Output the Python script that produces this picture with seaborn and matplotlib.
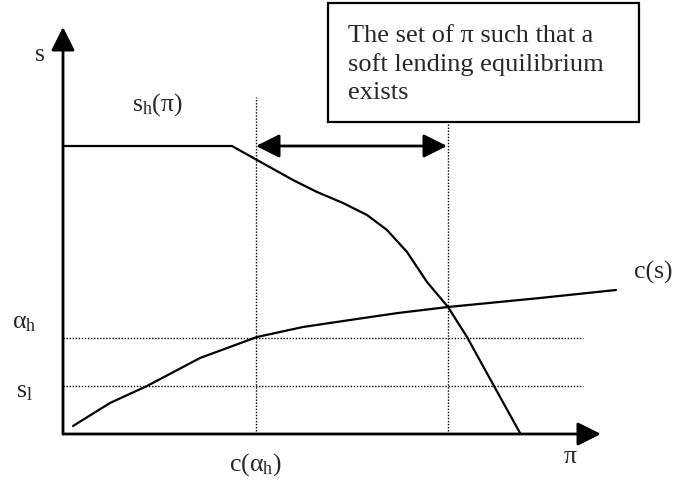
import numpy as np
import pandas as pd
import matplotlib
matplotlib.use("Agg")
import matplotlib.pyplot as plt
import seaborn as sns
from matplotlib.patches import Rectangle

# schematic values (origin at the axes corner)
cs_pi = [10, 47, 84, 137, 194, 240, 287, 335, 385, 477, 553]
cs_s = [8, 31, 48, 76, 97, 107, 114, 121, 127, 136, 144]

sh_pi = [0, 169, 194, 230, 254, 280, 304, 324, 344, 364, 385, 404, 431, 457]
sh_s = [288, 288, 274, 254, 242, 231, 219, 204, 182, 152, 127, 97, 48, 1]

alpha_h = 96
s_l = 48
c_alpha_h = 193
pi_top = 385
hline_end = 520

sns.set_theme(style="white")
plt.rcParams["font.family"] = ["Liberation Serif", "DejaVu Serif"]
plt.rcParams["mathtext.fontset"] = "custom"
plt.rcParams["mathtext.rm"] = "Liberation Serif"
plt.rcParams["mathtext.it"] = "Liberation Serif"

fig = plt.figure(figsize=(6.73, 4.83), dpi=100)
ax = fig.add_axes([0, 0, 1, 1])
ax.set_xlim(-63, 610)
ax.set_ylim(-49, 434)
ax.axis("off")

df_c = pd.DataFrame({"pi": cs_pi, "s": cs_s})
df_h = pd.DataFrame({"pi": sh_pi, "s": sh_s})
sns.lineplot(data=df_c, x="pi", y="s", sort=False, color="black", lw=1.6, ax=ax)
sns.lineplot(data=df_h, x="pi", y="s", sort=False, color="black", lw=1.6, ax=ax)

# dotted guide lines
dot = dict(color="black", lw=1, linestyle=(0, (1, 1.2)))
ax.plot([0, hline_end], [alpha_h, alpha_h], **dot)
ax.plot([0, hline_end], [s_l, s_l], **dot)
ax.plot([c_alpha_h, c_alpha_h], [0, 337], **dot)
ax.plot([pi_top, pi_top], [0, 311], **dot)

# axes with arrow heads
head = dict(arrowstyle="-|>,head_length=1.0,head_width=0.5", color="black",
            lw=2, mutation_scale=14.4, shrinkA=0, shrinkB=0)
ax.annotate("", xy=(0, 407), xytext=(0, 0), arrowprops=head)
ax.annotate("", xy=(538, 0), xytext=(0, 0), arrowprops=head)

# double arrow: set of pi
dbl = dict(arrowstyle="<|-|>,head_length=1.0,head_width=0.5", color="black",
           lw=2, mutation_scale=14.4, shrinkA=0, shrinkB=0)
ax.annotate("", xy=(384, 288), xytext=(193, 288), arrowprops=dbl)

# text box
ax.add_patch(Rectangle((265, 312), 311, 119, fill=False, ec="black", lw=1.6))
ax.text(285, 409, "The set of \u03c0 such that a\nsoft lending equilibrium\nexists",
        fontsize=19, va="top", ha="left", linespacing=1.35)

fs = 18.5
ax.text(-23, 379, "s", fontsize=fs, ha="center", va="center")
ax.text(94, 329, r"$s_h(\pi)$", fontsize=fs, ha="center", va="center")
ax.text(590, 162, "c(s)", fontsize=fs, ha="center", va="center")
ax.text(-39, 111, r"$\alpha_h$", fontsize=fs, ha="center", va="center")
ax.text(-39, 42, r"$s_l$", fontsize=fs, ha="center", va="center")
ax.text(192, -31, r"$c(\alpha_h)$", fontsize=fs, ha="center", va="center")
ax.text(507, -23, r"$\pi$", fontsize=fs, ha="center", va="center")

fig.savefig("out.png", dpi=100)
